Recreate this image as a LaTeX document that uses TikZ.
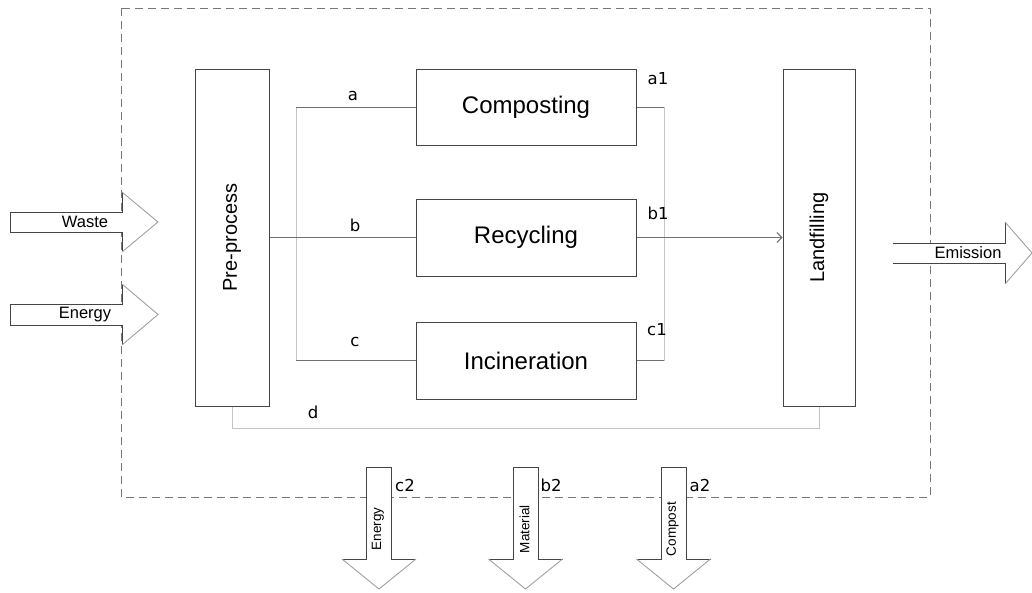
\documentclass[tikz,border=0pt]{standalone}
\usepackage{fontspec}
\setmainfont{Liberation Sans}
\newfontfamily\tagfont{DejaVu Sans}
\usetikzlibrary{arrows.meta}
\definecolor{boxline}{HTML}{454545}
\definecolor{linkline}{HTML}{707070}
\definecolor{paleline}{HTML}{C4C4C4}
\definecolor{headline}{HTML}{A0A0A0}
\definecolor{frameline}{HTML}{777777}
\tikzset{
  stage/.style={draw=boxline, line width=1pt, fill=white, inner sep=0pt,
    font=\fontsize{24}{28}\selectfont},
  column/.style={draw=boxline, line width=1pt, fill=white, inner sep=0pt,
    rotate=90, font=\fontsize{20}{24}\selectfont},
  link/.style={draw=linkline, line width=0.9pt},
  palelink/.style={draw=paleline, line width=0.9pt},
  tag/.style={font=\tagfont\fontsize{16.5}{19}\selectfont, inner sep=0pt},
  flowtext/.style={font=\fontsize{16.5}{19}\selectfont, inner sep=0pt},
  outtext/.style={font=\fontsize{13.5}{16}\selectfont, inner sep=0pt, rotate=90},
  shaft/.style={draw=boxline, line width=0.9pt},
  head/.style={draw=headline, line width=0.9pt},
  frame/.style={draw=frameline, line width=1pt, dash pattern=on 8pt off 5pt}
}
\begin{document}
\begin{tikzpicture}[x=1pt, y=-1pt]
\useasboundingbox (0,0) rectangle (1032,592);

% system boundary
\draw[frame] (121,8) rectangle (930,497);

% process stages (the two columns are turned, so their west anchor is at the bottom)
\node[column, minimum width=337pt, minimum height=74pt] (pre) at (232,237.5) {Pre-process};
\node[column, minimum width=337pt, minimum height=72pt] (land) at (819,237.5) {Landfilling};
\node[stage, minimum width=220pt, minimum height=76pt] (comp) at (526,107) {Composting};
\node[stage, minimum width=220pt, minimum height=77pt] (recy) at (526,237.5) {Recycling};
\node[stage, minimum width=220pt, minimum height=77pt] (inci) at (526,360.5) {Incineration};

% split after pre-processing
\coordinate (splitA) at (296,107);
\coordinate (splitC) at (296,360.5);
\draw[palelink] (splitA) -- (splitC);
\draw[link] (splitA) -- (comp.west);
\draw[link] (splitC) -- (inci.west);
\draw[link] (pre.south) -- (recy.west);

% residues to landfilling
\coordinate (joinA) at (664,107);
\coordinate (joinC) at (664,360.5);
\draw[link] (comp.east) -- (joinA);
\draw[link] (inci.east) -- (joinC);
\draw[draw=headline!60, line width=0.9pt] (joinA) -- (joinC);
\draw[link, -{Straight Barb[length=5pt, width=10pt]}] (recy.east) -- (land.north);

% direct route d
\coordinate (dL) at (232,428);
\coordinate (dR) at (819,428);
\draw[palelink] (pre.west) -- (dL) -- (dR) -- (land.west);

% route labels
\node[tag] (ta) at (353,96) {a};
\node[tag] (tb) at (355,225) {b};
\node[tag] (tc) at (355,342) {c};
\node[tag] (td) at (313,412) {d};
\node[tag] (ta1) at (658,79) {a1};
\node[tag] (tb1) at (658,213) {b1};
\node[tag] (tc1) at (657,330) {c1};
\node[tag] (tc2) at (405,485) {c2};
\node[tag] (tb2) at (551,485) {b2};
\node[tag] (ta2) at (700,485) {a2};

% inputs
\fill[white] (10,212) -- (122,212) -- (122,192) -- (158,222) -- (122,252) -- (122,232) -- (10,232) -- cycle;
\draw[shaft] (122,192) -- (122,212) -- (10,212) -- (10,232) -- (122,232) -- (122,252);
\draw[head] (122,192) -- (158,222) -- (122,252);
\node[flowtext] (waste) at (85,222) {Waste};

\fill[white] (10,304) -- (122,304) -- (122,284) -- (158,314.5) -- (122,345) -- (122,325) -- (10,325) -- cycle;
\draw[shaft] (122,284) -- (122,304) -- (10,304) -- (10,325) -- (122,325) -- (122,345);
\draw[head] (122,284) -- (158,314.5) -- (122,345);
\node[flowtext] (energyin) at (85,315) {Energy};

% output to air
\fill[white] (893,243) -- (1005,243) -- (1005,222) -- (1032,253) -- (1005,284) -- (1005,263) -- (893,263) -- cycle;
\draw[shaft] (893,243) -- (1005,243) -- (1005,222);
\draw[shaft] (893,263) -- (1005,263) -- (1005,284);
\draw[head] (1005,222) -- (1032,253) -- (1005,284);
\node[flowtext] (emis) at (968,253) {Emission};

% products
\foreach \cx/\txt/\nm in {379/Energy/energyout, 525.5/Material/material, 673.5/Compost/compost}{
  \fill[white] (\cx-12.5,467) rectangle (\cx+12.5,559);
  \fill[white] (\cx-37,559) -- (\cx,589) -- (\cx+37,559) -- cycle;
  \draw[shaft] (\cx-37,559) -- (\cx-12.5,559) -- (\cx-12.5,467) -- (\cx+12.5,467) -- (\cx+12.5,559) -- (\cx+37,559);
  \draw[head] (\cx-37,559) -- (\cx,589) -- (\cx+37,559);
  \node[outtext] (\nm) at (\cx-1,529) {\txt};
}
\end{tikzpicture}
\end{document}
